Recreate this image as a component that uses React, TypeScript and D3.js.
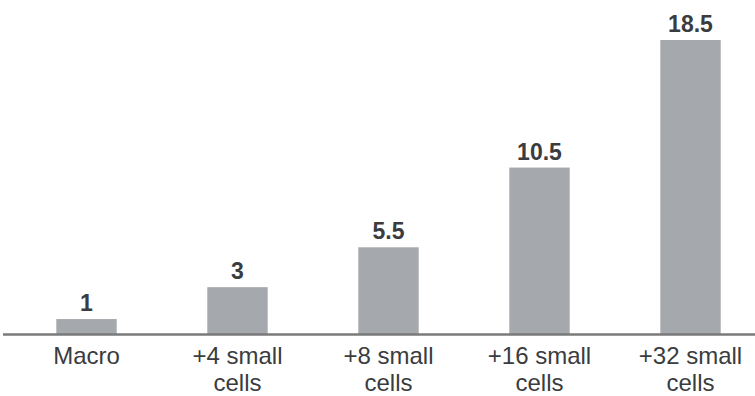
import React from "react";
import * as d3 from "d3";

const categories: string[][] = [
  ["Macro"],
  ["+4 small", "cells"],
  ["+8 small", "cells"],
  ["+16 small", "cells"],
  ["+32 small", "cells"],
];
const values: number[] = [1, 3, 5.5, 10.5, 18.5];
const valueLabels: string[] = ["1", "3", "5.5", "10.5", "18.5"];

const W = 755;
const H = 396;
const baseline = 335;

export default function App() {
  const x = d3
    .scaleBand<number>()
    .domain(values.map((_, i) => i))
    .range([11, 766])
    .paddingInner(0.6)
    .paddingOuter(0.3);
  const y = d3.scaleLinear().domain([0, 18.5]).range([baseline, 40]);
  const font = "'Liberation Sans', Arial, Helvetica, sans-serif";
  return (
    <svg
      width={W}
      height={H}
      style={{ position: "absolute", left: 0, top: 0, background: "#fff" }}
    >
      {values.map((v, i) => {
        const bx = x(i)!;
        const bw = x.bandwidth();
        return (
          <g key={i}>
            <rect x={bx} y={y(v)} width={bw} height={baseline - y(v)} fill="#a5a8ac" />
            <text
              x={bx + bw / 2}
              y={y(v) - 8}
              textAnchor="middle"
              fontFamily={font}
              fontSize={23}
              fontWeight="bold"
              fill="#3a3c40"
            >
              {valueLabels[i]}
            </text>
            {categories[i].map((line, j) => (
              <text
                key={j}
                x={bx + bw / 2}
                y={364 + j * 27}
                textAnchor="middle"
                fontFamily={font}
                fontSize={24}
                fill="#3a3c40"
              >
                {line}
              </text>
            ))}
          </g>
        );
      })}
      <line x1={3} x2={755} y1={334.5} y2={334.5} stroke="#7a7a7a" strokeWidth={2.5} />
    </svg>
  );
}
